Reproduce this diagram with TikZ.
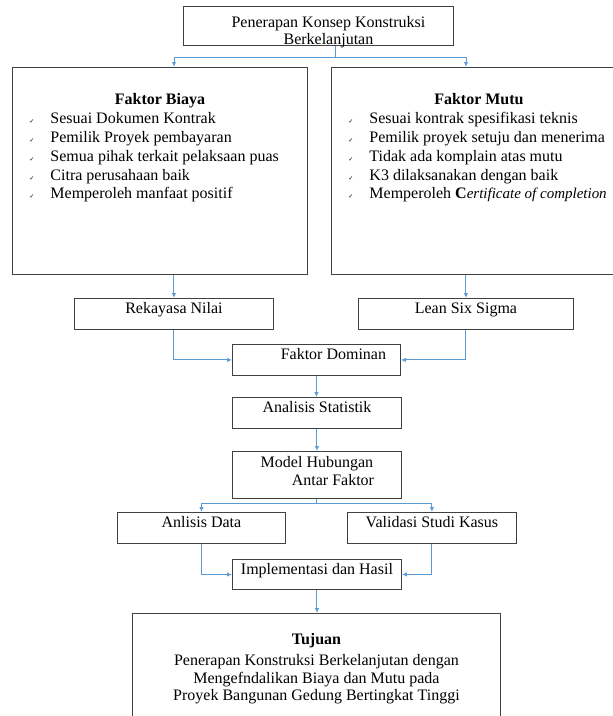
\documentclass[tikz,border=0pt]{standalone}
\usepackage{fontspec}
\setmainfont{Liberation Serif}
\newfontfamily\checkfont{DejaVu Sans}
\usepackage{tikz}
\usetikzlibrary{arrows.meta,positioning,calc}
\usepackage{xcolor}
\definecolor{boxline}{RGB}{64,64,64}
\definecolor{linkblue}{RGB}{91,155,213}
\newcommand{\chk}{\makebox[21pt][l]{\checkfont\fontsize{6}{6}\selectfont ✓}}

\begin{document}
\begin{tikzpicture}[
  x=1pt, y=-1pt,
  box/.style={draw=boxline, line width=0.9pt, inner sep=0pt, anchor=north west},
  single/.style={box, text height=12pt, text depth=12pt},
  link/.style={draw=linkblue, line width=1pt},
  arr/.style={link, -{Latex[length=5pt,width=4.5pt]}},
  every node/.style={font=\fontsize{16}{19}\selectfont}
]
\useasboundingbox (0,0) rectangle (613,716);

% ---- top: concept and the two factor boxes ----
\node[box, minimum width=270pt, minimum height=39pt, align=center, text height=38.5pt, text depth=0.5pt,
      font=\fontsize{16}{17}\selectfont] (konsep) at (183,6)
  {\hspace*{20pt}Penerapan Konsep Konstruksi\\\hspace*{20pt}Berkelanjutan};

\node[box] (biaya) at (12,67) {\begin{minipage}[t][207pt][t]{295pt}
  \fontsize{16}{18.75}\selectfont
  \vspace*{25.5pt}
  {\centering\textbf{Faktor Biaya}\par}
  \vspace{1pt}
  \raggedright\leftskip=17pt
  \chk Sesuai Dokumen Kontrak\par
  \chk Pemilik Proyek pembayaran\par
  \chk Semua pihak terkait pelaksaan puas\par
  \chk Citra perusahaan baik\par
  \chk Memperoleh manfaat positif\par
\end{minipage}};

\node[box] (mutu) at (331,67) {\begin{minipage}[t][207pt][t]{295pt}
  \fontsize{16}{18.75}\selectfont
  \vspace*{25.5pt}
  {\centering\textbf{Faktor Mutu}\par}
  \vspace{1pt}
  \raggedright\leftskip=17pt
  \chk Sesuai kontrak spesifikasi teknis\par
  \chk Pemilik proyek setuju dan menerima\par
  \chk Tidak ada komplain atas mutu\par
  \chk K3 dilaksanakan dengan baik\par
  \chk Memperoleh \textbf{C}{\fontsize{15}{18.75}\selectfont\itshape ertificate of completion}\par
\end{minipage}};

\draw[link] ([xshift=17pt]konsep.south) -- ++(0,12) coordinate (split);
\draw[arr] (split) -| (174,67) coordinate (biayain);
\draw[arr] (split) -| (466,67) coordinate (mutuin);

% ---- methods ----
\node[single, minimum width=199pt, minimum height=31pt] (rekayasa) at (74,298) {Rekayasa Nilai};
\node[single, minimum width=215pt, minimum height=31pt] (lean) at (358,298) {Lean Six Sigma};
\draw[arr] (rekayasa.north |- biaya.south) -- (rekayasa.north);
\draw[arr] (lean.north |- mutu.south) -- (lean.north);

% ---- middle column ----
\node[single, minimum width=168pt, minimum height=31pt] (dominan) at (232,344) {\hspace*{34pt}Faktor Dominan};
\node[single, minimum width=169pt, minimum height=31pt] (analisis) at (232,397) {Analisis Statistik};
\node[box, minimum width=169pt, minimum height=47pt, align=center, text height=33pt, text depth=11pt,
      font=\fontsize{16}{18}\selectfont] (model) at (232,451)
  {Model Hubungan\\\hspace*{32pt}Antar Faktor};

\draw[arr] (rekayasa.south) |- (dominan.west);
\draw[arr] (lean.south) |- (dominan.east);
\draw[arr] (dominan.south) -- (dominan.south |- analisis.north);
\draw[arr] (analisis.south) -- (analisis.south |- model.north);

% ---- data / validation and result ----
\node[single, minimum width=168pt, minimum height=31pt] (data) at (117,512) {Anlisis Data};
\node[single, minimum width=169pt, minimum height=31pt] (validasi) at (347,512) {Validasi Studi Kasus};
\node[single, minimum width=169pt, minimum height=30pt] (implementasi) at (232,559) {Implementasi dan Hasil};

\draw[link] (model.south) -- ++(0,5) coordinate (fork);
\draw[arr] (fork) -| (data.north);
\draw[arr] (fork) -| (validasi.north);
\draw[arr] (data.south) |- (implementasi.west);
\draw[arr] (validasi.south) |- (implementasi.east);

% ---- goal ----
\node[box, minimum width=368pt, minimum height=110pt, align=center, text height=87.5pt, text depth=22.5pt,
      font=\fontsize{16}{17.5}\selectfont] (tujuan) at (132,613)
  {\textbf{Tujuan}\\[3.5pt]
   Penerapan Konstruksi Berkelanjutan dengan\\
   Mengefndalikan Biaya dan Mutu pada\\
   Proyek Bangunan Gedung Bertingkat Tinggi};
\draw[arr] (implementasi.south) -- (implementasi.south |- tujuan.north);

\end{tikzpicture}
\end{document}
